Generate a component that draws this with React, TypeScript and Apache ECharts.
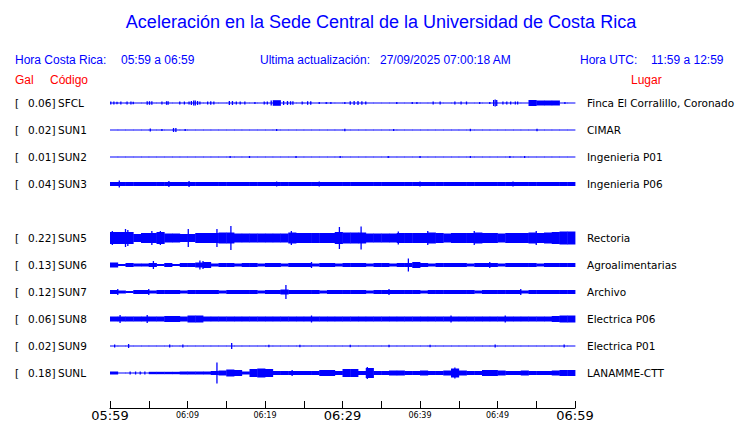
import React, { useEffect, useRef } from "react";
import * as echarts from "echarts";

// ---------- data ----------
const codes = ["SFCL", "SUN1", "SUN2", "SUN3", "SUN5", "SUN6", "SUN7", "SUN8", "SUN9", "SUNL"];
const rowIndex = [0, 1, 2, 3, 5, 6, 7, 8, 9, 10];
const gal = ["0.06", "0.02", "0.01", "0.04", "0.22", "0.13", "0.12", "0.06", "0.02", "0.18"];
const places = [
  "Finca El Corralillo, Coronado",
  "CIMAR",
  "Ingenieria P01",
  "Ingenieria P06",
  "Rectoria",
  "Agroalimentarias",
  "Archivo",
  "Electrica P06",
  "Electrica P01",
  "LANAMME-CTT",
];

// per-minute half-height envelopes (px)
const envSFCL = [
  0.5, 0.5, 0.5, 0.5, 0.5, 0.5, 0.5, 0.5, 0.5, 0.5,
  0.5, 0.5, 0.5, 0.5, 0.5, 0.5, 0.5, 0.5, 0.5, 0.5,
  0.5, 2.8, 0.5, 0.5, 0.5, 0.5, 0.5, 0.5, 0.5, 0.5,
  0.5, 0.5, 0.5, 0.5, 0.5, 0.5, 0.5, 0.5, 0.5, 0.5,
  0.5, 0.5, 0.5, 0.5, 0.5, 0.5, 0.5, 0.5, 0.5, 0.5,
  0.5, 0.5, 0.5, 0.5, 3, 2.5, 2.5, 2.5, 0.5, 0.5,
];
const envSUN1 = [
  0.5, 0.5, 0.5, 0.5, 0.5, 0.5, 0.5, 0.5, 0.5, 0.5,
  0.5, 0.5, 0.5, 0.5, 0.5, 0.5, 0.5, 0.5, 0.5, 0.5,
  0.5, 0.5, 0.5, 0.5, 0.5, 0.5, 0.5, 0.5, 0.5, 0.5,
  0.5, 0.5, 0.5, 0.5, 0.5, 0.5, 0.5, 0.5, 0.5, 0.5,
  0.5, 0.5, 0.5, 0.5, 0.5, 0.5, 0.5, 0.5, 0.5, 0.5,
  0.5, 0.5, 0.5, 0.5, 0.5, 0.5, 0.5, 0.5, 0.5, 0.5,
];
const envSUN2 = [
  0.5, 0.5, 0.5, 0.5, 0.5, 0.5, 0.5, 0.5, 0.5, 0.5,
  0.5, 0.5, 0.5, 0.5, 0.5, 0.5, 0.5, 0.5, 0.5, 0.5,
  0.5, 0.5, 0.5, 0.5, 0.5, 0.5, 0.5, 0.5, 0.5, 0.5,
  0.5, 0.5, 0.5, 0.5, 0.5, 0.5, 0.5, 0.5, 0.5, 0.5,
  0.5, 0.5, 0.5, 0.5, 0.5, 0.5, 0.5, 0.5, 0.5, 0.5,
  0.5, 0.5, 0.5, 0.5, 0.5, 0.5, 0.5, 0.5, 0.5, 0.5,
];
const envSUN3 = [
  2, 2, 2, 2, 2, 2, 2, 2, 2, 2,
  2, 2, 2, 2, 2, 2, 2, 2, 2, 2,
  2, 2, 2, 2, 2, 2, 2, 2, 2, 2,
  2, 2, 2, 2, 2, 2, 2, 2, 2, 2,
  2, 2, 2, 2, 2, 2, 2, 2, 2, 2,
  2, 2, 2, 2, 2, 2, 2, 2, 2, 2,
];
const envSUN5 = [
  6, 6, 6, 4, 5, 5, 6, 4.5, 4.5, 4,
  4, 5, 5, 5, 5.5, 5.5, 4.5, 4.5, 4.5, 4.5,
  4.5, 4.5, 4.5, 5.5, 5, 5, 5, 5, 5, 6,
  5.5, 5.5, 5.5, 4.5, 4.5, 4.5, 4.5, 5, 5, 5,
  5, 5.5, 5, 4.5, 5, 5, 5, 5.5, 5, 5,
  4.5, 5, 5, 5, 5.5, 5, 5.5, 6, 6.5, 6.5,
];
const envSUN6 = [
  2.5, 1, 2, 1.5, 1.5, 2, 1, 2, 1, 2,
  2, 2.5, 3, 1.5, 2, 2, 1.5, 2, 2, 1.5,
  2, 2, 1.5, 2, 2, 2, 1.5, 2, 2, 1.5,
  2, 2, 2, 1.5, 2, 2, 1.5, 2, 2, 3,
  2, 1.5, 2, 2, 2, 2, 1.5, 2, 2, 2,
  1.5, 2, 2, 2, 2, 1.5, 2, 2, 2, 2,
];
const envSUN7 = [
  2, 1.5, 1, 2, 2, 1.5, 2, 2, 2, 1.5,
  2, 2, 2, 2, 1.5, 2, 2, 2, 2, 1.5,
  2, 2, 2.5, 2, 2, 2, 2, 1.5, 2, 2,
  2, 2, 2, 1.5, 2, 2, 2, 2, 2, 2,
  1.5, 2, 2, 2, 2, 2, 2, 1.5, 2, 2,
  2, 2, 2, 1.5, 2, 2, 2, 2, 2, 2,
];
const envSUN8 = [
  2.5, 2.5, 2.5, 2.5, 2.5, 2.5, 2.5, 3, 3, 2.5,
  3.5, 3.5, 2.5, 2.5, 2.5, 2.5, 2.5, 2.5, 2.5, 2.5,
  2.5, 2.5, 2.5, 2.5, 2.5, 2.5, 2.5, 2.5, 2.5, 2.5,
  2.5, 2.5, 2.5, 2.5, 2.5, 2.5, 2.5, 2.5, 2.5, 2.5,
  2.5, 2.5, 2.5, 2.5, 2.5, 2.5, 2.5, 2.5, 2.5, 2.5,
  2.5, 2.5, 2.5, 2.5, 2.5, 2.5, 2.5, 3, 3.5, 3.5,
];
const envSUN9 = [
  0.5, 0.5, 0.5, 0.5, 0.5, 0.5, 0.5, 0.5, 0.5, 0.5,
  0.5, 0.5, 0.5, 0.5, 0.5, 0.5, 0.5, 0.5, 0.5, 0.5,
  0.5, 0.5, 0.5, 0.5, 0.5, 0.5, 0.5, 0.5, 0.5, 0.5,
  0.5, 0.5, 0.5, 0.5, 0.5, 0.5, 0.5, 0.5, 0.5, 0.5,
  0.5, 0.5, 0.5, 0.5, 0.5, 0.5, 0.5, 0.5, 0.5, 0.5,
  0.5, 0.5, 0.5, 0.5, 0.5, 0.5, 0.5, 0.5, 0.5, 0.5,
];
const envSUNL = [
  1.5, 0.5, 0.5, 0.5, 0.5, 1.2, 1.2, 1.2, 1.2, 1.5,
  1.5, 1.5, 1.5, 2, 2.5, 3.5, 3, 1.5, 4, 4.5,
  4, 2, 2, 2, 2, 2, 2, 3, 3, 2,
  4, 4, 2, 5, 2, 2, 2.5, 2.5, 2, 2,
  2.5, 2, 2, 2.5, 4.5, 2.5, 2, 2, 3, 3,
  2.5, 2, 2, 2.5, 2, 2, 2, 2.5, 3, 3,
];
const envelopes = [envSFCL, envSUN1, envSUN2, envSUN3, envSUN5, envSUN6, envSUN7, envSUN8, envSUN9, envSUNL];

// short bursts / spikes: [minute, half-height px]
const spkSFCL = [
  [0.1, 1.5], [0.5, 1.5], [0.9, 1.2], [1.4, 1.5], [2.2, 1.5], [2.7, 1.5], [3.0, 1.2],
  [4.8, 1.8], [5.1, 1.8], [5.4, 1.8], [6.7, 1.5], [7.3, 1.8], [7.5, 1.8], [9.0, 1.5],
  [9.6, 1.5], [10.2, 1.5], [10.5, 2], [10.8, 2.5], [11.0, 2.5], [11.3, 2], [11.6, 1.5],
  [12.6, 1.5], [13.0, 1.8], [13.4, 1.5], [15.4, 2], [15.8, 2], [16.3, 1.5], [16.8, 1.5],
  [17.4, 1.5], [18.7, 1], [19.9, 1.5], [20.3, 1.5], [20.8, 2.5], [22.4, 2], [22.9, 2],
  [23.3, 1.8], [23.6, 1.8], [24.8, 1.5], [25.5, 1.8], [25.9, 1.8], [27.0, 1], [27.9, 1],
  [28.5, 1], [30.3, 1], [31.0, 1.8], [31.5, 2], [32.0, 2], [32.5, 1.8], [33.0, 1.5],
  [37.0, 1], [39.0, 1], [39.6, 1], [41.7, 1.5], [42.6, 1.5], [44.5, 1.5], [45.3, 1.5],
  [46.0, 1.5], [47.7, 1], [49.0, 1], [49.5, 3], [49.7, 3.5], [49.9, 3], [50.7, 1.5],
  [51.2, 1.5], [51.7, 1.5], [52.3, 1.5], [52.6, 1.5], [58.7, 1],
];
const spkSUN1 = [[5.2, 1.5], [6.7, 1], [8.2, 2], [8.5, 2], [9.7, 1], [21.5, 1], [30.3, 1.2], [36.6, 1], [46.5, 1.2], [55.1, 1.2]];
const spkSUN2 = [[15.5, 1], [18.0, 1], [24.0, 1], [29.7, 1], [35.9, 1], [40.0, 1], [46.5, 1], [51.6, 1], [53.5, 1]];
const spkSUN3 = [[1.2, 3.5], [7.6, 3], [10.2, 3], [21.5, 2.5], [27.0, 2.5], [40.0, 2.5], [52.0, 2.5]];
const spkSUN5 = [
  [0.3, 7], [2.0, 9], [2.3, 8], [5.4, 7], [6.5, 7], [10.1, 9], [13.8, 9], [15.6, 12],
  [23.4, 7], [29.6, 11], [32.4, 11.5], [37.2, 6.5], [41.0, 7], [47.0, 7], [55.0, 7],
];
const spkSUN6 = [[5.6, 4], [11.6, 4.5], [12.0, 4], [26.0, 3], [38.5, 6.5], [49.0, 3]];
const spkSUN7 = [[1.0, 3], [5.0, 3], [22.7, 7], [36.0, 3], [53.0, 3]];
const spkSUN8 = [[1.3, 4], [4.8, 4], [26.0, 3.5], [44.0, 3.5], [51.0, 3.5]];
const spkSUN9 = [
  [0.6, 1.5], [2.4, 2], [7.7, 1.5], [9.4, 1.5], [15.7, 3], [20.5, 1.2], [24.5, 1.2],
  [31.0, 1.2], [36.0, 1.2], [41.3, 1.2], [49.7, 1.5], [58.6, 1.5],
];
const spkSUNL = [[2.6, 1.5], [3.3, 1.5], [3.9, 1.5], [4.5, 1.5], [13.8, 10.5], [23.5, 3], [33.2, 6], [44.5, 5.5]];
const spikes = [spkSFCL, spkSUN1, spkSUN2, spkSUN3, spkSUN5, spkSUN6, spkSUN7, spkSUN8, spkSUN9, spkSUNL];

const tickMinutes = [0, 10, 20, 30, 40, 50, 60];
const tickLabels = ["05:59", "06:09", "06:19", "06:29", "06:39", "06:49", "06:59"];
const bigLabels = ["05:59", "06:29", "06:59"];

const ROW_STEP = 27;
const BLUE = "#0000ff";
const RED = "#ff0000";
const HEAD_FONT = '"Liberation Sans", Arial, sans-serif';
const LABEL_FONT = '"DejaVu Sans", sans-serif';

function txt(text: string, x: number, y: number, size: number, fill: string, align = "left") {
  return {
    type: "text",
    x,
    y,
    silent: true,
    style: {
      text,
      fill,
      font: `${size}px ${HEAD_FONT}`,
      align,
      textAlign: align,
      verticalAlign: "middle",
      textVerticalAlign: "middle",
    },
  };
}

export default function App() {
  const ref = useRef<HTMLDivElement>(null);

  useEffect(() => {
    const chart = echarts.init(ref.current!, null, { renderer: "svg" });

    const envData: number[][] = [];
    envelopes.forEach((env, s) => {
      const w = 60 / env.length;
      env.forEach((a, k) => envData.push([k * w, rowIndex[s] * ROW_STEP, a, w]));
    });
    const spikeData: number[][] = [];
    spikes.forEach((list, s) =>
      list.forEach(([t, a]) => spikeData.push([t, rowIndex[s] * ROW_STEP, a]))
    );
    const labelData = codes.map((_, s) => [0, rowIndex[s] * ROW_STEP, s]);

    const labelStyle = (text: string, align = "left") => ({
      text,
      fill: "#000",
      font: `10.5px ${LABEL_FONT}`,
      align,
      textAlign: align,
      verticalAlign: "middle",
      textVerticalAlign: "middle",
    });

    chart.setOption({
      animation: false,
      backgroundColor: "#ffffff",
      grid: { left: 110, width: 465, top: 73, height: 335, containLabel: false },
      xAxis: {
        type: "value",
        min: 0,
        max: 60,
        interval: 5,
        splitLine: { show: false },
        axisLine: { show: true, onZero: false, lineStyle: { color: "#000", width: 1 } },
        axisTick: { show: true, inside: true, length: 7, lineStyle: { color: "#000", width: 1 } },
        axisLabel: {
          show: true,
          margin: 1,
          showMinLabel: true,
          showMaxLabel: true,
          hideOverlap: false,
          color: "#000",
          fontFamily: LABEL_FONT,
          formatter: (v: number) => {
            const i = tickMinutes.indexOf(v);
            if (i < 0) return "";
            const l = tickLabels[i];
            return bigLabels.includes(l) ? `{b|${l}}` : `{s|${l}}`;
          },
          rich: {
            b: { fontSize: 13, lineHeight: 13, fontFamily: LABEL_FONT, color: "#000" },
            s: { fontSize: 8, lineHeight: 13, fontFamily: LABEL_FONT, color: "#000" },
          },
        },
      },
      yAxis: { type: "value", min: -30, max: 305, inverse: true, show: false },
      series: [
        {
          type: "custom",
          name: "envelope",
          coordinateSystem: "cartesian2d",
          clip: false,
          encode: { x: 0, y: 1 },
          data: envData,
          renderItem: (_p: any, api: any) => {
            const t = api.value(0);
            const base = api.value(1);
            const a = api.value(2);
            const w = api.value(3);
            const p0 = api.coord([t, base - a]);
            const p1 = api.coord([t + w, base + a]);
            const y0 = Math.min(p0[1], p1[1]);
            const h = Math.max(1, Math.abs(p1[1] - p0[1]));
            return {
              type: "rect",
              shape: { x: p0[0], y: y0, width: p1[0] - p0[0] + 0.4, height: h },
              style: { fill: BLUE },
            };
          },
        },
        {
          type: "custom",
          name: "spikes",
          coordinateSystem: "cartesian2d",
          clip: false,
          encode: { x: 0, y: 1 },
          data: spikeData,
          renderItem: (_p: any, api: any) => {
            const t = api.value(0);
            const base = api.value(1);
            const a = api.value(2);
            const p0 = api.coord([t, base - a]);
            const p1 = api.coord([t, base + a]);
            return {
              type: "line",
              shape: { x1: p0[0], y1: p0[1], x2: p1[0], y2: p1[1] },
              style: { stroke: BLUE, lineWidth: 1.3 },
            };
          },
        },
        {
          type: "custom",
          name: "labels",
          coordinateSystem: "cartesian2d",
          clip: false,
          silent: true,
          encode: { x: 0, y: 1 },
          data: labelData,
          renderItem: (_p: any, api: any) => {
            const s = api.value(2);
            const y = api.coord([0, api.value(1)])[1];
            return {
              type: "group",
              children: [
                { type: "text", x: 15, y, style: labelStyle("[") },
                { type: "text", x: 55.5, y, style: labelStyle(gal[s] + "]", "right") },
                { type: "text", x: 58, y, style: labelStyle(codes[s]) },
                { type: "text", x: 587, y, style: labelStyle(places[s]) },
              ],
            };
          },
        },
      ],
      graphic: [
        txt("Aceleración en la Sede Central de la Universidad de Costa Rica", 381, 22, 18, BLUE, "center"),
        txt("Hora Costa Rica:", 15, 60, 12, BLUE),
        txt("05:59 a 06:59", 121, 60, 12, BLUE),
        txt("Ultima actualización:", 260, 60, 12, BLUE),
        txt("27/09/2025 07:00:18 AM", 380, 60, 12, BLUE),
        txt("Hora UTC:", 580, 60, 12, BLUE),
        txt("11:59 a 12:59", 651, 60, 12, BLUE),
        txt("Gal", 15, 80, 12, RED),
        txt("Código", 50, 80, 12, RED),
        txt("Lugar", 631, 80, 12, RED),
      ],
    });

    return () => chart.dispose();
  }, []);

  return (
    <div
      ref={ref}
      style={{ position: "fixed", left: 0, top: 0, width: 740, height: 423, background: "#fff" }}
    />
  );
}
